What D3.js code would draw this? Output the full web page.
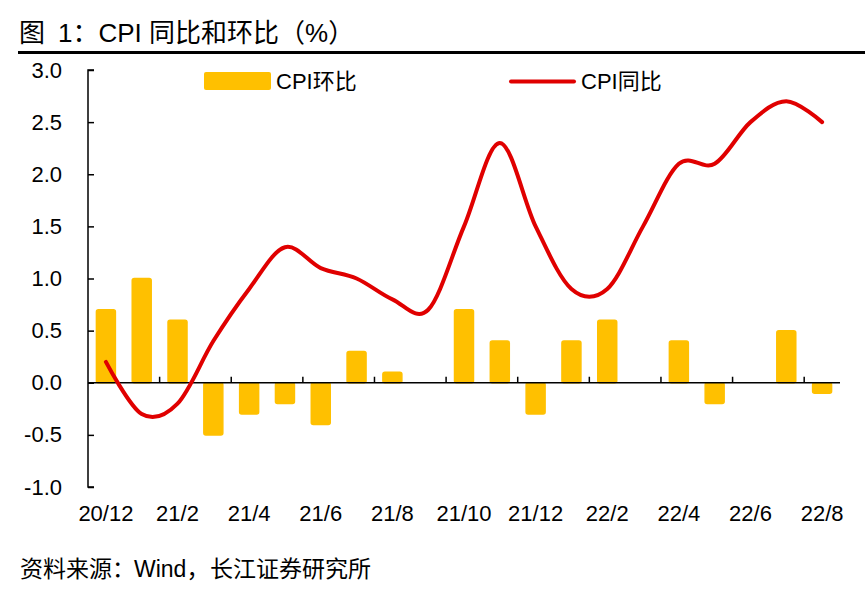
<!DOCTYPE html>
<html>
<head>
<meta charset="utf-8">
<script src="https://cdn.jsdelivr.net/npm/d3@7"></script>
<style>
  body { margin: 0; background: #fff; }
  text { font-family: "Liberation Sans", Arial, "Noto Sans CJK SC", sans-serif; fill: #000; }
</style>
</head>
<body>
<script>
// months 20/12 .. 22/8
var months = ["20/12","21/1","21/2","21/3","21/4","21/5","21/6","21/7","21/8","21/9","21/10","21/11",
              "21/12","22/1","22/2","22/3","22/4","22/5","22/6","22/7","22/8"];
var cpiMoM = [0.7, 1.0, 0.6, -0.5, -0.3, -0.2, -0.4, 0.3, 0.1, 0.0, 0.7, 0.4,
              -0.3, 0.4, 0.6, 0.0, 0.4, -0.2, 0.0, 0.5, -0.1];
var cpiYoY = [0.2, -0.3, -0.2, 0.4, 0.9, 1.3, 1.1, 1.0, 0.8, 0.7, 1.5, 2.3,
              1.5, 0.9, 0.9, 1.5, 2.1, 2.1, 2.5, 2.7, 2.5];
var yTicks = [3.0, 2.5, 2.0, 1.5, 1.0, 0.5, 0.0, -0.5, -1.0];

var W = 865, H = 601;
var margin = { top: 70, right: 25, bottom: 114, left: 88 };
var width = W - margin.left - margin.right;
var height = H - margin.top - margin.bottom;

var svg = d3.select("body").append("svg")
     .attr("width", W)
     .attr("height", H);

// title + rule
svg.append("text")
     .attr("x", 19).attr("y", 42)
     .style("font-size", "26px")
     .text("图");
svg.append("text")
     .attr("x", 58).attr("y", 42)
     .style("font-size", "26px")
     .text("1：CPI 同比和环比（%）");
svg.append("line")
     .attr("x1", 18).attr("x2", W)
     .attr("y1", 52.5).attr("y2", 52.5)
     .attr("stroke", "#000").attr("stroke-width", 3);

// source
[["资料来源：", 20], ["Wind，", 134], ["长江证券研究所", 210]].forEach(function (s) {
     svg.append("text")
          .attr("x", s[1]).attr("y", 577)
          .style("font-size", "23px")
          .text(s[0]);
});

var g = svg.append("g")
     .attr("transform", "translate(" + margin.left + "," + margin.top + ")");

var x = d3.scaleBand().domain(months).range([0, width]).paddingInner(0).paddingOuter(0);
var y = d3.scaleLinear().domain([-1, 3]).range([height, 0]);
var bw = x.bandwidth() * 0.53;

// bars
cpiMoM.forEach(function (v, i) {
     if (v === 0) return;
     g.append("rect")
          .attr("x", x(months[i]) + (x.bandwidth() - bw) / 2)
          .attr("y", y(Math.max(v, 0)))
          .attr("width", bw)
          .attr("height", Math.abs(y(v) - y(0)))
          .attr("fill", "#FFC000")
          .attr("stroke", "#FFC000")
          .attr("stroke-width", 1.5)
          .attr("rx", 2);
});

// y axis
var yAxis = d3.axisLeft(y).tickValues(yTicks).tickSize(-6).tickPadding(26)
     .tickFormat(function (d) { return d3.format(".1f")(d).replace("−", "-"); });
var ya = g.append("g").call(yAxis);
ya.select(".domain").attr("d", "M6,0H0V" + height + "H6").attr("stroke", "#000").attr("stroke-width", 1.5);
ya.selectAll(".tick line").attr("stroke", "#000").attr("stroke-width", 1.5);
ya.selectAll(".tick text").style("font-size", "22px").attr("fill", "#000")
     .style("font-family", "'Liberation Sans', Arial, sans-serif");

// zero line with tick marks every 2 months
g.append("line")
     .attr("x1", 0).attr("x2", width)
     .attr("y1", y(0)).attr("y2", y(0))
     .attr("stroke", "#000").attr("stroke-width", 1.5);
months.forEach(function (m, i) {
     if (i > 0 && i % 2 === 0) {
          g.append("line")
               .attr("x1", x(m)).attr("x2", x(m))
               .attr("y1", y(0)).attr("y2", y(0) - 6)
               .attr("stroke", "#000").attr("stroke-width", 1.5);
     }
});

// x labels
months.forEach(function (m, i) {
     if (i % 2 === 0) {
          g.append("text")
               .attr("x", x(m) + x.bandwidth() / 2)
               .attr("y", height + 34)
               .attr("text-anchor", "middle")
               .style("font-size", "22px")
               .text(m);
     }
});

// YoY line
var valueline = d3.line()
     .x(function (d, i) { return x(months[i]) + x.bandwidth() / 2; })
     .y(function (d) { return y(d); })
     .curve(d3.curveCatmullRom.alpha(0));
g.append("path")
     .datum(cpiYoY)
     .attr("d", valueline)
     .attr("fill", "none")
     .attr("stroke", "#E00000")
     .attr("stroke-width", 4)
     .attr("stroke-linecap", "round");

// legend
svg.append("rect")
     .attr("x", 204).attr("y", 72)
     .attr("width", 67).attr("height", 18)
     .attr("rx", 2)
     .attr("fill", "#FFC000");
svg.append("text")
     .attr("x", 276).attr("y", 89)
     .style("font-size", "22px")
     .text("CPI环比");
svg.append("line")
     .attr("x1", 511).attr("x2", 574)
     .attr("y1", 81.5).attr("y2", 81.5)
     .attr("stroke", "#E00000").attr("stroke-width", 4)
     .attr("stroke-linecap", "round");
svg.append("text")
     .attr("x", 581).attr("y", 89)
     .style("font-size", "22px")
     .text("CPI同比");
</script>
</body>
</html>
